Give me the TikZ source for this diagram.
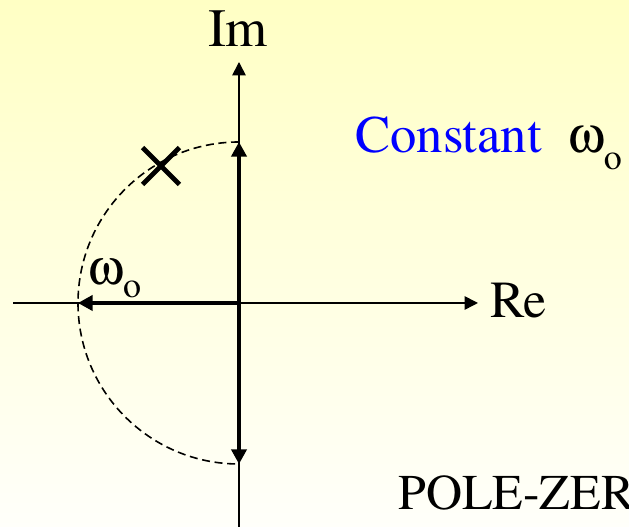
\documentclass[tikz,border=0pt]{standalone}
\usepackage{fontspec}
\usepackage[Symbol]{upgreek}
\setmainfont{texgyretermes}[Extension=.otf,UprightFont=*-regular,BoldFont=*-bold,ItalicFont=*-italic,BoldItalicFont=*-bolditalic]
\usetikzlibrary{arrows.meta,shapes.misc}
\definecolor{bgtop}{RGB}{255,255,196}
\definecolor{bgmid}{RGB}{255,255,228}
\definecolor{bgbot}{RGB}{255,255,250}
\newcommand{\omsub}[1]{$\upomega$\raisebox{#1}{\fontsize{27}{27}\selectfont o}}
\begin{document}
\begin{tikzpicture}[x=0.75pt,y=0.75pt,
  axis/.style={line width=1.2pt,-{Triangle[length=10pt,width=10pt]}},
  vec/.style={line width=2.3pt,-{Triangle[length=11pt,width=11.5pt]}},
  locus/.style={line width=1.2pt,dash pattern=on 6pt off 3.5pt},
  lbl/.style={inner sep=0pt,anchor=base west,font=\fontsize{39}{39}\selectfont},
  polemark/.style={cross out,draw,line width=3.6pt,minimum size=24pt,inner sep=0pt},
]
\shade[top color=bgtop,middle color=bgmid,bottom color=bgbot] (0,0) rectangle (629,527);
\useasboundingbox (0,0) rectangle (629,527);
\clip (0,0) rectangle (629,527);

\coordinate (O) at (239,224);
\coordinate (imtop) at (239,465);
\coordinate (imbot) at (239,0);
\coordinate (reL) at (13,224);
\coordinate (reR) at (478,224);
\coordinate (wtop) at (239,385);
\coordinate (wbot) at (239,63);
\coordinate (wleft) at (78,224);

% axes
\draw[axis] (imbot) -- (imtop);
\draw[axis] (reL) -- (reR);

% constant-omega locus
\draw[locus] (wtop) arc[start angle=90,end angle=270,radius=120.75pt];

% radius vectors
\draw[vec] (O) -- (wtop);
\draw[vec] (O) -- (wbot);
\draw[vec] (O) -- (wleft);

% pole
\node[polemark] (pole) at (161,361) {};

% labels
\node[lbl,font=\fontsize{40.5}{40.5}\selectfont,anchor=base] (im) at (238,480) {Im};
\node[lbl] (re) at (490,209) {Re};
\node[lbl,font=\fontsize{39.5}{39.5}\selectfont,text=blue] (const) at (355,374) {Constant};
\node[lbl] (w1) at (568,374) {\omsub{-12.5pt}};
\node[lbl,font=\fontsize{38}{38}\selectfont] (w2) at (88,242) {\omsub{-9.75pt}};
\node[lbl,font=\fontsize{37.5}{37.5}\selectfont] (title) at (398,17) {POLE-ZERO};
\end{tikzpicture}
\end{document}
